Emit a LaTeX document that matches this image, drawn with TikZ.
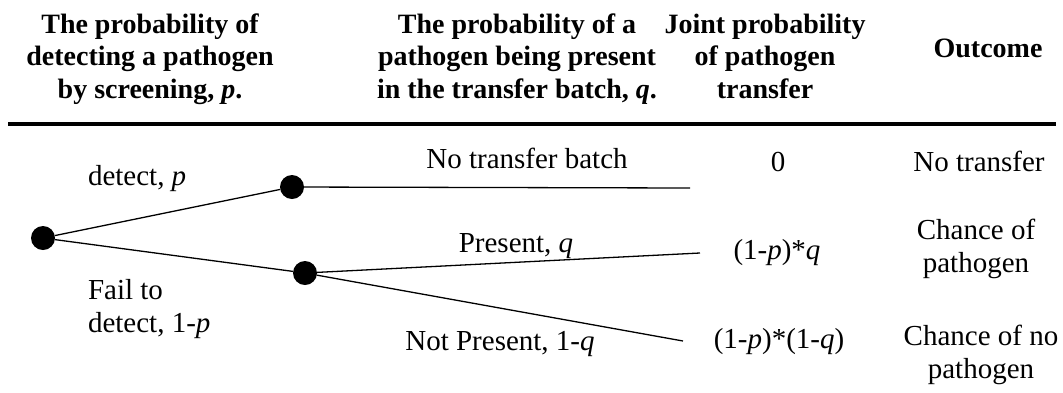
\documentclass[tikz,border=0pt]{standalone}
\usepackage{fontspec}
\setmainfont{Liberation Serif}
\begin{document}
\begin{tikzpicture}[x=1pt,y=-1pt,
  every node/.style={inner sep=0pt, outer sep=0pt},
  hdr/.style={font=\fontsize{28}{32.5}\selectfont\bfseries, align=center, anchor=base},
  txt/.style={font=\fontsize{29}{33}\selectfont, align=center, anchor=base},
  ltxt/.style={font=\fontsize{29}{33}\selectfont, align=left, anchor=base west},
  dot/.style={circle, fill=black, minimum size=24pt},
  branch/.style={line width=1.3pt}]
\useasboundingbox (0,0) rectangle (1063,392);
% header (base anchor = baseline of last line)
\node[hdr] (h1) at (150,98) {The probability of\\detecting a pathogen\\by screening, \textit{p}.};
\node[hdr] (h2) at (517,98) {The probability of a\\pathogen being present\\in the transfer batch, \textit{q}.};
\node[hdr] (h3) at (765,98) {Joint probability\\of pathogen\\transfer};
\node[hdr] (h4) at (988,57) {Outcome};
\coordinate (rl) at (8,124);
\coordinate (rr) at (1056,124);
\draw[line width=4pt] (rl) -- (rr);
% tree
\node[dot] (root) at (43,238) {};
\node[dot] (top) at (292,187) {};
\node[dot] (low) at (305,273) {};
\coordinate (e1) at (690,188);
\coordinate (e2) at (700,253);
\coordinate (e3) at (683,341);
\draw[branch] (root) -- (top);
\draw[branch] (root) -- (low);
\draw[branch] (top) -- (e1);
\draw[branch] (low) -- (e2);
\draw[branch] (low) -- (e3);
% labels
\node[ltxt] (l1) at (88,185) {detect, \textit{p}};
\node[ltxt] (l2) at (88,332) {Fail to\\detect, 1-\textit{p}};
\node[txt] (l3) at (527,168) {No transfer batch};
\node[txt] (l4) at (516,252) {Present, \textit{q}};
\node[txt] (l5) at (500,350) {Not Present, 1-\textit{q}};
% joint probabilities
\node[txt] (j1) at (778,171) {0};
\node[txt] (j2) at (777,259) {(1-\textit{p})*\textit{q}};
\node[txt] (j3) at (779,348) {(1-\textit{p})*(1-\textit{q})};
% outcomes
\node[txt] (o1) at (979,171) {No transfer};
\node[txt] (o2) at (976,272) {Chance of\\pathogen};
\node[txt] (o3) at (981,378) {Chance of no\\pathogen};
\end{tikzpicture}
\end{document}
